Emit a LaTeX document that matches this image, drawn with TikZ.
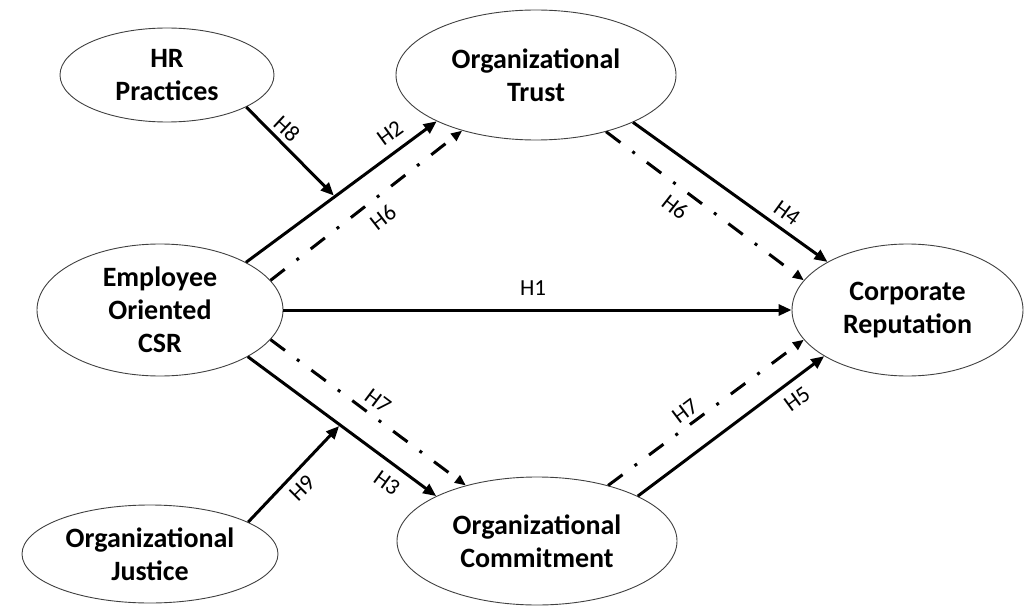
\documentclass[tikz,border=0pt]{standalone}
\usepackage{fontspec}
\setmainfont{Carlito}
\usetikzlibrary{shapes.geometric,arrows.meta}
\begin{document}
\begin{tikzpicture}[x=1pt,y=-1pt,
  construct/.style={ellipse,draw=black!75,line width=0.9pt,inner sep=0pt,align=center,
    font=\bfseries\fontsize{28}{33}\selectfont},
  solidarrow/.style={line width=3pt,-{Triangle[length=13pt,width=11pt]}},
  dasharrow/.style={line width=3pt,dash pattern=on 18pt off 15pt on 3pt off 15pt,
    -{Triangle[length=11pt,width=9pt]}},
  hlabel/.style={font=\fontsize{23}{26}\selectfont,inner sep=0pt}]
\useasboundingbox (0,0) rectangle (1025,607);

% constructs
\node[construct,minimum width=214pt,minimum height=94pt] (hr) at (167,75) {HR\\Practices};
\node[construct,minimum width=280pt,minimum height=130pt] (trust) at (536,75) {Organizational\\Trust};
\node[construct,minimum width=246pt,minimum height=132pt] (emp) at (160,310) {Employee\\Oriented\\CSR};
\node[construct,minimum width=231pt,minimum height=132pt] (rep) at (907.5,310) {Corporate\\Reputation};
\node[construct,minimum width=280pt,minimum height=128pt] (comm) at (537,541) {Organizational\\Commitment};
\node[construct,minimum width=256pt,minimum height=98pt] (just) at (150,554) {Organizational\\Justice};

% direct paths
\draw[solidarrow] (emp.29.2) -- coordinate[pos=0.466] (m8) (trust.205.4);
\draw[dasharrow] (emp.15.3) -- (trust.217.5);
\draw[solidarrow] (trust.-26.1) -- (rep.149.8);
\draw[dasharrow] (trust.-39.2) -- (rep.164.8);
\draw[solidarrow] (emp.east) -- (rep.west);
\draw[dasharrow] (emp.-15.7) -- (comm.142.5);
\draw[solidarrow] (emp.-28.7) -- coordinate[pos=0.49] (m9) (comm.156.3);
\draw[dasharrow] (comm.38.5) -- (rep.196.6);
\draw[solidarrow] (comm.24.2) -- (rep.209.7);

% moderators
\draw[solidarrow,shorten >=1.5pt] (hr.-22.8) -- (m8);
\draw[solidarrow,shorten >=1.5pt] (just.18.4) -- (m9);

% labels
\node[hlabel,rotate=-43] (l8) at (287,129) {H8};
\node[hlabel,rotate=36] (l2) at (390,133) {H2};
\node[hlabel,rotate=38] (l6a) at (383,217) {H6};
\node[hlabel,rotate=-38] (l6b) at (675,207) {H6};
\node[hlabel,rotate=-36] (l4) at (787,213) {H4};
\node[hlabel] (l1) at (533,288) {H1};
\node[hlabel,rotate=-37] (l7a) at (378,401) {H7};
\node[hlabel,rotate=-36] (l3) at (387,483) {H3};
\node[hlabel,rotate=45] (l9) at (302,488) {H9};
\node[hlabel,rotate=37] (l7b) at (685,411) {H7};
\node[hlabel,rotate=36] (l5) at (797,399) {H5};
\end{tikzpicture}
\end{document}
